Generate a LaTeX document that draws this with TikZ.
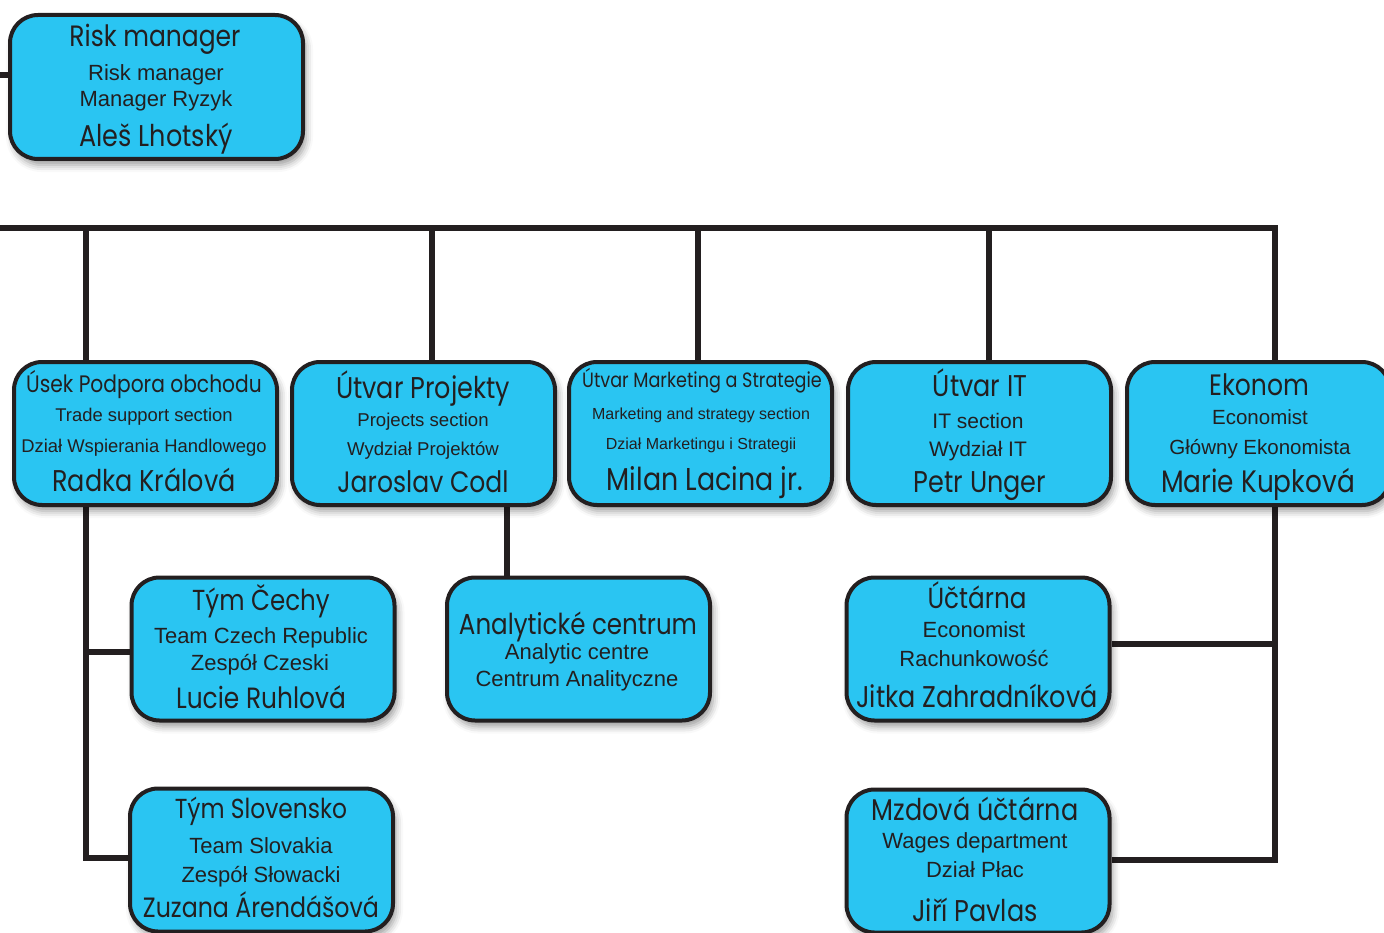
\documentclass[tikz,border=0pt]{standalone}
\usepackage{fontspec}
\setmainfont{Liberation Sans}
\newfontfamily\fut[FakeStretch=0.85]{Poppins}
\usetikzlibrary{shadows.blur}
\pgfdeclarelayer{bg}
\pgfsetlayers{bg,main}
\definecolor{boxfill}{RGB}{42,197,242}
\definecolor{ink}{RGB}{35,31,32}
\tikzset{
  card/.style={draw=ink, line width=4pt, fill=boxfill, rounded corners=28pt, inner sep=0pt,
    minimum width=263pt, minimum height=143pt,
    blur shadow={shadow xshift=3pt, shadow yshift=-6pt, shadow blur radius=7pt, shadow opacity=40}},
  link/.style={draw=ink, line width=5.5pt},
  hd/.style={anchor=base, inner sep=0pt, text=ink, font=\fut\fontsize{#1}{#1}\selectfont},
  hd/.default=30,
  sub/.style={anchor=base, inner sep=0pt, text=ink, font=\fontsize{#1}{#1}\selectfont},
  sub/.default=22,
}
\begin{document}
\begin{tikzpicture}[x=1pt,y=-1pt]
\useasboundingbox (0,0) rectangle (1384,933);
\clip (0,0) rectangle (1384,933);
% boxes
\node[card, minimum width=293pt, minimum height=144pt] (rm) at (156.5,87) {};
\node[card] (b1) at (145.5,433.5) {};
\node[card] (b2) at (423.5,433.5) {};
\node[card] (b3) at (700.5,433.5) {};
\node[card] (b4) at (979.5,433.5) {};
\node[card] (b5) at (1258.5,433.5) {};
\node[card] (tc) at (263,649) {};
\node[card] (ac) at (578.5,649) {};
\node[card] (uc) at (978,649) {};
\node[card] (ts) at (261.5,860) {};
\node[card] (mz) at (978,861) {};
% texts
\node[hd=29.4] (rm-h) at (155,47) {Risk manager};
\node[sub] (rm-a) at (156,81) {Risk manager};
\node[sub] (rm-b) at (156,107) {Manager Ryzyk};
\node[hd] (rm-n) at (156,147) {Aleš Lhotský};

\node[hd=23.8] (b1-h) at (144,392) {Úsek Podpora obchodu};
\node[sub=18.4] (b1-a) at (144,421) {Trade support section};
\node[sub=18.4] (b1-b) at (144,452) {Dział Wspierania Handlowego};
\node[hd] (b1-n) at (144,491) {Radka Králová};

\node[hd] (b2-h) at (423,398) {Útvar Projekty};
\node[sub=18.6] (b2-a) at (423,426) {Projects section};
\node[sub=18.6] (b2-b) at (423,455) {Wydział Projektów};
\node[hd=29.5] (b2-n) at (423,492) {Jaroslav Codl};

\node[hd=20.7] (b3-h) at (702,387) {Útvar Marketing a Strategie};
\node[sub=16] (b3-a) at (701,419) {Marketing and strategy section};
\node[sub=16] (b3-b) at (701,449) {Dział Marketingu i Strategii};
\node[hd=31.6] (b3-n) at (705,490) {Milan Lacina jr.};

\node[hd] (b4-h) at (980,396) {Útvar IT};
\node[sub=21] (b4-a) at (978,428) {IT section};
\node[sub=21] (b4-b) at (978,456) {Wydział IT};
\node[hd] (b4-n) at (980,492) {Petr Unger};

\node[hd=29.5] (b5-h) at (1259,395) {Ekonom};
\node[sub=20.5] (b5-a) at (1260,424) {Economist};
\node[sub=20.5] (b5-b) at (1260,454) {Główny Ekonomista};
\node[hd=31] (b5-n) at (1258,492) {Marie Kupková};

\node[hd=28.9] (tc-h) at (261,610) {Tým Čechy};
\node[sub] (tc-a) at (261,643) {Team Czech Republic};
\node[sub] (tc-b) at (260,670) {Zespół Czeski};
\node[hd=29.3] (tc-n) at (261,708) {Lucie Ruhlová};

\node[hd=28.9] (ac-h) at (578,634) {Analytické centrum};
\node[sub] (ac-a) at (577,659) {Analytic centre};
\node[sub] (ac-b) at (577,686) {Centrum Analityczne};

\node[hd=29] (uc-h) at (977,608) {Účtárna};
\node[sub] (uc-a) at (974,637) {Economist};
\node[sub] (uc-b) at (974,666) {Rachunkowość};
\node[hd] (uc-n) at (977,707) {Jitka Zahradníková};

\node[hd=27.5] (ts-h) at (261,818) {Tým Slovensko};
\node[sub] (ts-a) at (261,853) {Team Slovakia};
\node[sub] (ts-b) at (261,882) {Zespół Słowacki};
\node[hd=27.9] (ts-n) at (261,917) {Zuzana Árendášová};

\node[hd=30] (mz-h) at (975,820) {Mzdová účtárna};
\node[sub] (mz-a) at (975,848) {Wages department};
\node[sub] (mz-b) at (975,877) {Dział Płac};
\node[hd] (mz-n) at (975,921) {Jiří Pavlas};
% connectors
\begin{pgfonlayer}{bg}
\coordinate (rmL) at (0,75);
\draw[link] (rmL) -- (rmL -| rm.west);
\coordinate (busL) at (0,228);
\coordinate (busR) at (1275,228);
\draw[link] (busL) -- (busR) -- (busR |- b5.north);
\coordinate (v1) at (86,228);
\coordinate (v2) at (432,228);
\coordinate (v3) at (698,228);
\coordinate (v4) at (989,228);
\draw[link] (v1) -- (v1 |- b1.north);
\draw[link] (v2) -- (v2 |- b2.north);
\draw[link] (v3) -- (v3 |- b3.north);
\draw[link] (v4) -- (v4 |- b4.north);
\coordinate (j1) at (86,652);
\coordinate (j2) at (86,858);
\draw[link] (j1 |- b1.south) -- (j2) -- (j2 -| ts.west);
\draw[link] (j1) -- (j1 -| tc.west);
\coordinate (p2) at (507,0);
\draw[link] (p2 |- b2.south) -- (p2 |- ac.north);
\coordinate (k1) at (1275,644);
\coordinate (k2) at (1275,860);
\draw[link] (k1 |- b5.south) -- (k2) -- (k2 -| mz.east);
\draw[link] (k1) -- (k1 -| uc.east);
\end{pgfonlayer}
\end{tikzpicture}
\end{document}
